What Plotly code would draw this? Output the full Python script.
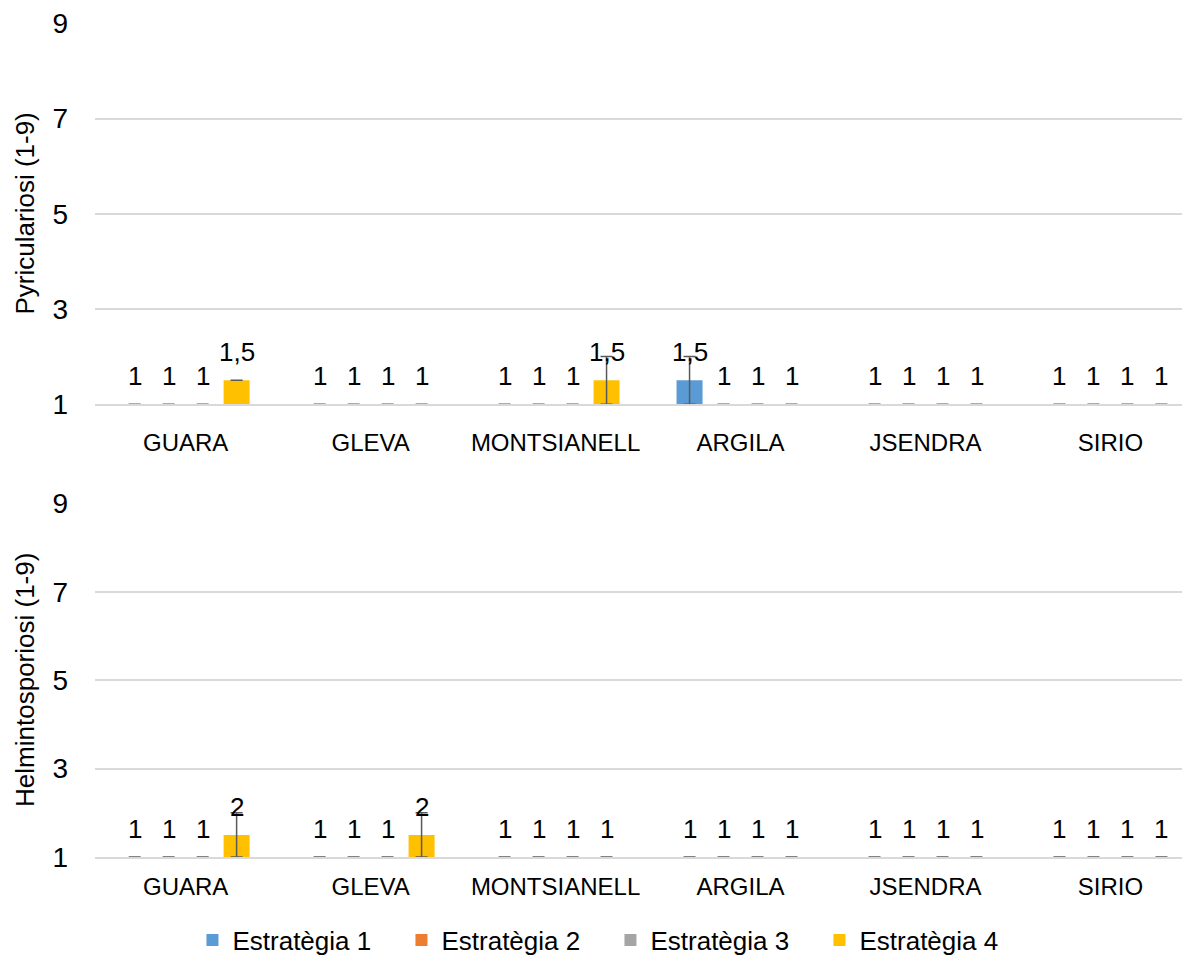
import plotly.graph_objects as go

# categories and series
varietats = ['GUARA', 'GLEVA', 'MONTSIANELL', 'ARGILA', 'JSENDRA', 'SIRIO']
estrategies = ['Estratègia 1', 'Estratègia 2', 'Estratègia 3', 'Estratègia 4']
colors = ['#5B9BD5', '#ED7D31', '#A5A5A5', '#FFC000']

# Pyriculariosi (1-9)
pyr_e1 = [1, 1, 1, 1.5, 1, 1]
pyr_e2 = [1, 1, 1, 1, 1, 1]
pyr_e3 = [1, 1, 1, 1, 1, 1]
pyr_e4 = [1.5, 1, 1.5, 1, 1, 1]
pyr_err_e1 = [0, 0, 0, 0.5, 0, 0]
pyr_err_e2 = [0, 0, 0, 0, 0, 0]
pyr_err_e3 = [0, 0, 0, 0, 0, 0]
pyr_err_e4 = [0, 0, 0.5, 0, 0, 0]

# Helmintosporiosi (1-9)
hel_e1 = [1, 1, 1, 1, 1, 1]
hel_e2 = [1, 1, 1, 1, 1, 1]
hel_e3 = [1, 1, 1, 1, 1, 1]
hel_e4 = [1.5, 1.5, 1, 1, 1, 1]
hel_err_e1 = [0, 0, 0, 0, 0, 0]
hel_err_e2 = [0, 0, 0, 0, 0, 0]
hel_err_e3 = [0, 0, 0, 0, 0, 0]
hel_err_e4 = [0.5, 0.5, 0, 0, 0, 0]

titles = ['Pyriculariosi (1-9)', 'Helmintosporiosi (1-9)']

FONT = 'Liberation Sans, Arial, sans-serif'
BAR_STEP = 34  # px between bars of a group
DOM_TOP = [0.543, 1]
DOM_BOT = [0, 0.4245]

pyr = [pyr_e1, pyr_e2, pyr_e3, pyr_e4]
pyr_err = [pyr_err_e1, pyr_err_e2, pyr_err_e3, pyr_err_e4]
hel = [hel_e1, hel_e2, hel_e3, hel_e4]
hel_err = [hel_err_e1, hel_err_e2, hel_err_e3, hel_err_e4]


def lab_dec(v):
    # one decimal, comma separator, trailing zero dropped
    s = ('%.1f' % v).rstrip('0').rstrip('.')
    return s.replace('.', ',')


def lab_int(v):
    return str(int(v + 0.5))


fig = go.Figure()
annots = []

for panel, (vals, errs, fmt) in enumerate([(pyr, pyr_err, lab_dec), (hel, hel_err, lab_int)]):
    xa = 'x' if panel == 0 else 'x2'
    ya = 'y' if panel == 0 else 'y2'
    for i in range(4):
        fig.add_bar(x=varietats, y=vals[i], name=estrategies[i],
                    marker_color=colors[i], marker_line_width=0,
                    error_y=dict(type='data', array=errs[i], color='#595959',
                                 thickness=1.5, width=6),
                    xaxis=xa, yaxis=ya, showlegend=(panel == 0),
                    legendgroup=estrategies[i])
        for j, v in enumerate(vals[i]):
            annots.append(dict(x=varietats[j], y=v, xref=xa, yref=ya,
                               text=fmt(v), showarrow=False,
                               xshift=(i - 1.5) * BAR_STEP, yshift=28,
                               font=dict(size=26, color='#000000', family=FONT)))

# y axis titles
for t, dom in zip(titles, [DOM_TOP, DOM_BOT]):
    annots.append(dict(text=t, xref='paper', yref='paper', x=-0.064, y=sum(dom) / 2,
                       xanchor='center', yanchor='middle', textangle=-90, showarrow=False,
                       font=dict(size=26, color='#000000', family=FONT)))

grid = '#D9D9D9'
yax = dict(range=[1, 9.01], tickvals=[1, 3, 5, 7, 9], showgrid=True, gridcolor=grid,
           gridwidth=1.5, zeroline=False, showline=False, ticks='',
           tickfont=dict(size=28, color='#000000'), ticklabelstandoff=26)
xax = dict(range=[-0.49, 5.43], showgrid=False, showline=True, linecolor=grid,
           linewidth=1.5, ticks='', tickfont=dict(size=24, color='#000000'))

fig.update_layout(
    width=1182, height=949,
    margin=dict(l=87, r=0, t=15, b=100, autoexpand=False),
    plot_bgcolor='white', paper_bgcolor='white',
    font=dict(family=FONT, color='#000000'),
    barmode='group', bargap=0.265, bargroupgap=0.235,
    xaxis=dict(xax, anchor='y', ticklabelstandoff=16),
    yaxis=dict(yax, domain=DOM_TOP, anchor='x'),
    xaxis2=dict(xax, anchor='y2', ticklabelstandoff=7),
    yaxis2=dict(yax, domain=DOM_BOT, anchor='x2'),
    legend=dict(orientation='h', x=0.089, xanchor='left', y=-0.0995, yanchor='middle',
                font=dict(size=26, color='#000000'), itemwidth=30, traceorder='normal',
                entrywidth=164, entrywidthmode='pixels'),
    annotations=annots,
)

fig.write_html('out.html')
